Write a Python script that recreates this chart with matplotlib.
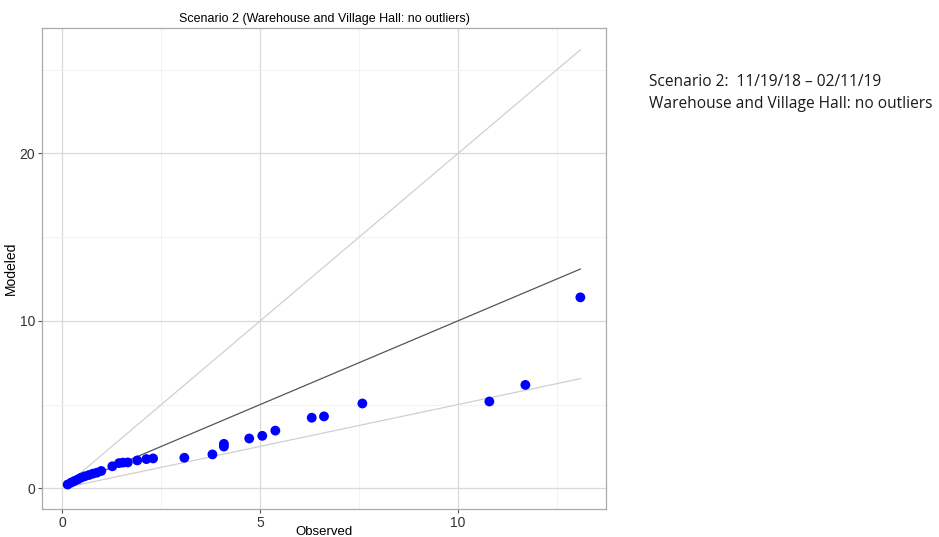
import matplotlib
matplotlib.use("Agg")
import matplotlib.pyplot as plt
import numpy as np

# observed vs modeled values
observed = [0.13, 0.22, 0.30, 0.39, 0.47, 0.56, 0.67, 0.77, 0.87, 0.98,
            1.26, 1.43, 1.53, 1.65, 1.89, 2.12, 2.29, 3.08, 3.79, 4.08,
            4.08, 4.72, 5.05, 5.38, 6.30, 6.61, 7.58, 10.79, 11.70, 13.09]
modeled = [0.22, 0.34, 0.43, 0.53, 0.63, 0.71, 0.79, 0.87, 0.93, 1.03,
           1.31, 1.50, 1.53, 1.54, 1.66, 1.74, 1.78, 1.82, 2.02, 2.65,
           2.49, 2.97, 3.13, 3.44, 4.21, 4.29, 5.06, 5.18, 6.17, 11.40]

x_ticks = [0, 5, 10]
y_ticks = [0, 10, 20]
title = "Scenario 2 (Warehouse and Village Hall: no outliers)"
side_note = ["Scenario 2:  11/19/18 \u2013 02/11/19",
             "Warehouse and Village Hall: no outliers"]

plt.rcParams["font.family"] = ["Liberation Sans", "DejaVu Sans"]

fig = plt.figure(figsize=(9.39, 5.37), dpi=100)
ax = fig.add_axes([42 / 939, 1 - 509 / 537, (606 - 42) / 939, (509 - 28) / 537])

x0, x1 = min(observed), max(observed)
xs = np.array([x0, x1])
ax.plot(xs, xs * 2, color="#d0d0d0", lw=0.9, zorder=2)
ax.plot(xs, xs * 0.5, color="#d0d0d0", lw=0.9, zorder=2)
ax.plot(xs, xs, color="#555555", lw=0.9, zorder=2)
ax.scatter(observed, modeled, s=50, color="#0000ff", edgecolor="none", zorder=3)

rng_x = x1 - x0
ax.set_xlim(x0 - 0.05 * rng_x, x1 + 0.05 * rng_x)
y_lo, y_hi = min(modeled + [x0 * 0.5]), x1 * 2
rng_y = y_hi - y_lo
ax.set_ylim(y_lo - 0.05 * rng_y, y_hi + 0.05 * rng_y)

ax.set_xticks(x_ticks)
ax.set_yticks(y_ticks)
ax.set_xticks([2.5, 7.5, 12.5], minor=True)
ax.set_yticks([5, 15, 25], minor=True)
ax.grid(True, which="major", color="#d9d9d9", lw=0.9, zorder=0)
ax.grid(True, which="minor", color="#f0f0f0", lw=0.6, zorder=0)
ax.set_axisbelow(True)
ax.tick_params(which="major", length=3, color="#555555", labelsize=10,
               labelcolor="#333333", pad=2)
ax.tick_params(which="minor", length=0)
for sp in ax.spines.values():
    sp.set_color("#aaaaaa")
    sp.set_linewidth(0.9)

ax.set_title(title, fontsize=9, pad=4)
ax.set_xlabel("Observed", fontsize=9.5, labelpad=-3)
ax.set_ylabel("Modeled", fontsize=10, labelpad=1)

fig.text(649 / 939, 1 - 82 / 537, side_note[0], fontsize=11.2, family="Open Sans",
         va="center", ha="left", color="#1a1a1a")
fig.text(649 / 939, 1 - 104 / 537, side_note[1], fontsize=11.2, family="Open Sans",
         va="center", ha="left", color="#1a1a1a")

fig.savefig("out.png", dpi=100, facecolor="white")
